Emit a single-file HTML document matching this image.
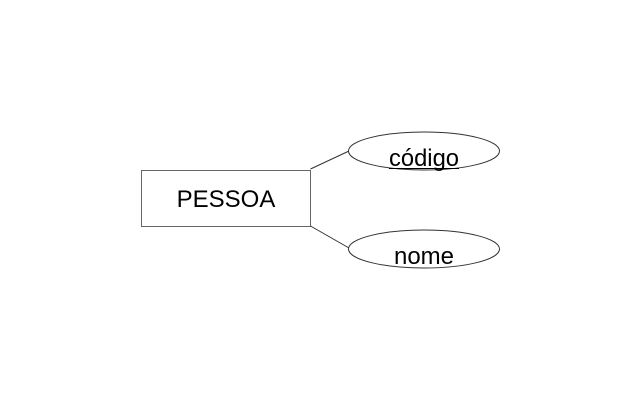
<!DOCTYPE html>
<html><head><style>body{margin:0;background:#fff}</style></head><body>
<svg width="640" height="400" xmlns="http://www.w3.org/2000/svg" style="display:block">
<rect x="0" y="0" width="640" height="400" fill="#fff"/>
<rect x="141.5" y="170.5" width="169" height="56" fill="#fff" stroke="#666" stroke-width="1"/>
<line x1="310.5" y1="169" x2="349" y2="151" stroke="#333" stroke-width="1"/>
<line x1="310.5" y1="226" x2="349" y2="248" stroke="#333" stroke-width="1"/>
<ellipse cx="424" cy="151" rx="75.5" ry="19" fill="#fff" stroke="#333" stroke-width="1"/>
<ellipse cx="424" cy="249" rx="75.5" ry="19" fill="#fff" stroke="#333" stroke-width="1"/>
<g font-family="Liberation Sans, sans-serif" fill="#000" text-anchor="middle">
<text x="226" y="207" font-size="24">PESSOA</text>
<text x="424" y="166" font-size="24" textLength="70" lengthAdjust="spacingAndGlyphs">código</text>
<text x="424" y="264" font-size="24">nome</text>
</g>
<line x1="389" y1="168.5" x2="459" y2="168.5" stroke="#000" stroke-width="1"/>
</svg>
</body></html>
